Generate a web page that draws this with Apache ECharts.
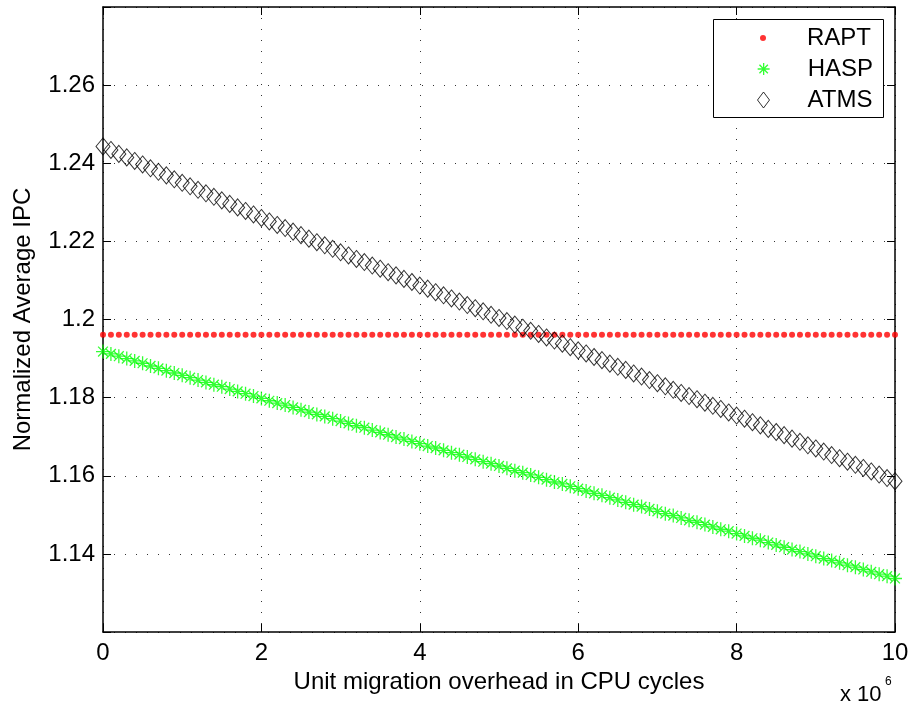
<!DOCTYPE html>
<html>
<head>
<meta charset="utf-8">
<script src="https://cdn.jsdelivr.net/npm/echarts@6/dist/echarts.min.js"></script>
<style>
  html, body { margin: 0; padding: 0; background: #fff; }
  #chart { width: 912px; height: 711px; }
</style>
</head>
<body>
<div id="chart"></div>
<script>
// Unit migration overhead (x 10^6 CPU cycles)
const overhead = [
  0.0, 0.1, 0.2, 0.3, 0.4, 0.5, 0.6, 0.7, 0.8, 0.9,
  1.0, 1.1, 1.2, 1.3, 1.4, 1.5, 1.6, 1.7, 1.8, 1.9,
  2.0, 2.1, 2.2, 2.3, 2.4, 2.5, 2.6, 2.7, 2.8, 2.9,
  3.0, 3.1, 3.2, 3.3, 3.4, 3.5, 3.6, 3.7, 3.8, 3.9,
  4.0, 4.1, 4.2, 4.3, 4.4, 4.5, 4.6, 4.7, 4.8, 4.9,
  5.0, 5.1, 5.2, 5.3, 5.4, 5.5, 5.6, 5.7, 5.8, 5.9,
  6.0, 6.1, 6.2, 6.3, 6.4, 6.5, 6.6, 6.7, 6.8, 6.9,
  7.0, 7.1, 7.2, 7.3, 7.4, 7.5, 7.6, 7.7, 7.8, 7.9,
  8.0, 8.1, 8.2, 8.3, 8.4, 8.5, 8.6, 8.7, 8.8, 8.9,
  9.0, 9.1, 9.2, 9.3, 9.4, 9.5, 9.6, 9.7, 9.8, 9.9,
  10.0
];

// Normalized average IPC per scheme
const rapt = [
  1.1961, 1.1961, 1.1961, 1.1961, 1.1961, 1.1961, 1.1961, 1.1961, 1.1961, 1.1961,
  1.1961, 1.1961, 1.1961, 1.1961, 1.1961, 1.1961, 1.1961, 1.1961, 1.1961, 1.1961,
  1.1961, 1.1961, 1.1961, 1.1961, 1.1961, 1.1961, 1.1961, 1.1961, 1.1961, 1.1961,
  1.1961, 1.1961, 1.1961, 1.1961, 1.1961, 1.1961, 1.1961, 1.1961, 1.1961, 1.1961,
  1.1961, 1.1961, 1.1961, 1.1961, 1.1961, 1.1961, 1.1961, 1.1961, 1.1961, 1.1961,
  1.1961, 1.1961, 1.1961, 1.1961, 1.1961, 1.1961, 1.1961, 1.1961, 1.1961, 1.1961,
  1.1961, 1.1961, 1.1961, 1.1961, 1.1961, 1.1961, 1.1961, 1.1961, 1.1961, 1.1961,
  1.1961, 1.1961, 1.1961, 1.1961, 1.1961, 1.1961, 1.1961, 1.1961, 1.1961, 1.1961,
  1.1961, 1.1961, 1.1961, 1.1961, 1.1961, 1.1961, 1.1961, 1.1961, 1.1961, 1.1961,
  1.1961, 1.1961, 1.1961, 1.1961, 1.1961, 1.1961, 1.1961, 1.1961, 1.1961, 1.1961,
  1.1961
];

const hasp = [
  1.1918, 1.1912, 1.1906, 1.1900, 1.1894, 1.1888, 1.1881, 1.1875, 1.1869, 1.1863,
  1.1857, 1.1851, 1.1845, 1.1839, 1.1833, 1.1828, 1.1822, 1.1816, 1.1810, 1.1804,
  1.1798, 1.1792, 1.1786, 1.1781, 1.1775, 1.1769, 1.1763, 1.1757, 1.1752, 1.1746,
  1.1740, 1.1734, 1.1728, 1.1723, 1.1717, 1.1711, 1.1705, 1.1699, 1.1694, 1.1688,
  1.1682, 1.1676, 1.1671, 1.1665, 1.1659, 1.1654, 1.1648, 1.1642, 1.1636, 1.1631,
  1.1625, 1.1619, 1.1613, 1.1608, 1.1602, 1.1596, 1.1590, 1.1584, 1.1579, 1.1573,
  1.1567, 1.1561, 1.1555, 1.1550, 1.1544, 1.1538, 1.1532, 1.1526, 1.1521, 1.1515,
  1.1509, 1.1503, 1.1498, 1.1492, 1.1486, 1.1481, 1.1475, 1.1469, 1.1463, 1.1458,
  1.1452, 1.1446, 1.1440, 1.1435, 1.1429, 1.1423, 1.1417, 1.1411, 1.1406, 1.1400,
  1.1394, 1.1388, 1.1383, 1.1377, 1.1371, 1.1366, 1.1360, 1.1354, 1.1348, 1.1343,
  1.1337
];

const atms = [
  1.2443, 1.2434, 1.2424, 1.2415, 1.2406, 1.2397, 1.2387, 1.2378, 1.2369, 1.2359,
  1.2350, 1.2341, 1.2332, 1.2323, 1.2314, 1.2305, 1.2296, 1.2287, 1.2278, 1.2269,
  1.2260, 1.2251, 1.2242, 1.2234, 1.2225, 1.2216, 1.2207, 1.2198, 1.2190, 1.2181,
  1.2172, 1.2164, 1.2155, 1.2147, 1.2138, 1.2130, 1.2121, 1.2113, 1.2104, 1.2096,
  1.2087, 1.2079, 1.2070, 1.2062, 1.2054, 1.2046, 1.2037, 1.2029, 1.2021, 1.2012,
  1.2004, 1.1996, 1.1987, 1.1979, 1.1971, 1.1963, 1.1954, 1.1946, 1.1938, 1.1929,
  1.1921, 1.1913, 1.1904, 1.1896, 1.1887, 1.1879, 1.1871, 1.1862, 1.1854, 1.1845,
  1.1837, 1.1829, 1.1820, 1.1812, 1.1804, 1.1796, 1.1787, 1.1779, 1.1771, 1.1762,
  1.1754, 1.1746, 1.1737, 1.1729, 1.1720, 1.1712, 1.1704, 1.1695, 1.1687, 1.1678,
  1.1670, 1.1662, 1.1653, 1.1645, 1.1636, 1.1628, 1.1620, 1.1611, 1.1603, 1.1594,
  1.1586
];

const seriesNames = ['RAPT', 'HASP', 'ATMS'];
const xTicks = { min: 0, max: 10, step: 2 };
const yTicks = { min: 1.12, max: 1.28, step: 0.02 };

const FONT = '"Liberation Sans", Arial, Helvetica, sans-serif';
const ASTERISK = 'path://M5,0L5,10M0,5L10,5M1.5,1.5L8.5,8.5M8.5,1.5L1.5,8.5';

const pairs = (ys) => overhead.map((x, i) => [x, ys[i]]);

const gridDots = { show: true, lineStyle: { color: '#333', width: 1, type: [1, 10] } };
const boxLine = { show: true, onZero: false, lineStyle: { color: '#000', width: 1.5 } };
const inTicks = { show: true, inside: true, length: 8, lineStyle: { color: '#000', width: 1 } };

function yLabel(v) {
  if (Math.abs(v - yTicks.min) < 1e-6 || Math.abs(v - yTicks.max) < 1e-6) return '';
  return String(parseFloat(v.toFixed(2)));
}

function legendFor(name, left, top, w, h, padLeft, itemStyle) {
  return {
    data: [name],
    orient: 'vertical',
    left: left, top: top,
    padding: 0,
    itemWidth: w, itemHeight: h,
    selectedMode: false,
    z: 6,
    itemStyle: itemStyle,
    textStyle: { fontFamily: FONT, fontSize: 24, lineHeight: 24, color: '#000', padding: [0, 0, 0, padLeft] }
  };
}

const chart = echarts.init(document.getElementById('chart'), null, { renderer: 'canvas' });

chart.setOption({
  animation: false,
  backgroundColor: '#fff',
  grid: { left: 103, right: 17, top: 7, bottom: 79, containLabel: false },
  xAxis: [
    {
      type: 'value', position: 'bottom',
      min: xTicks.min, max: xTicks.max, interval: xTicks.step,
      axisLine: boxLine, axisTick: inTicks, splitLine: gridDots,
      axisLabel: { color: '#000', fontFamily: FONT, fontSize: 24, margin: 9 },
      name: 'Unit migration overhead in CPU cycles',
      nameLocation: 'middle', nameGap: 36,
      nameTextStyle: { color: '#000', fontFamily: FONT, fontSize: 24 }
    },
    {
      type: 'value', position: 'top',
      min: xTicks.min, max: xTicks.max, interval: xTicks.step,
      axisLine: boxLine, axisTick: inTicks, splitLine: { show: false },
      axisLabel: { show: false }
    }
  ],
  yAxis: [
    {
      type: 'value', position: 'left',
      min: yTicks.min, max: yTicks.max, interval: yTicks.step,
      axisLine: boxLine, axisTick: inTicks, splitLine: gridDots,
      axisLabel: { color: '#000', fontFamily: FONT, fontSize: 24, margin: 8, formatter: yLabel },
      name: 'Normalized Average IPC',
      nameLocation: 'middle', nameGap: 68,
      nameTextStyle: { color: '#000', fontFamily: FONT, fontSize: 24 }
    },
    {
      type: 'value', position: 'right',
      min: yTicks.min, max: yTicks.max, interval: yTicks.step,
      axisLine: boxLine, axisTick: inTicks, splitLine: { show: false },
      axisLabel: { show: false }
    }
  ],
  legend: [
    legendFor(seriesNames[0], 760, 26, 6, 6, 36,
      { color: '#ff0000', borderWidth: 0 }),
    legendFor(seriesNames[1], 757, 57, 12, 12, 33,
      { color: 'rgba(0,0,0,0)', borderColor: '#00ff00', borderWidth: 1.3 }),
    legendFor(seriesNames[2], 757, 88, 12, 16, 33,
      { color: 'rgba(0,0,0,0)', borderColor: '#000', borderWidth: 1 })
  ],
  graphic: {
    elements: [
      {
        type: 'rect', z: 5,
        shape: { x: 713.5, y: 19.5, width: 170, height: 98 },
        style: { fill: '#fff', stroke: '#000', lineWidth: 1 }
      },
      {
        type: 'text', z: 5, left: 840, top: 684,
        style: { text: 'x 10', fontFamily: FONT, fontSize: 22, fill: '#000' }
      },
      {
        type: 'text', z: 5, left: 885, top: 676,
        style: { text: '6', fontFamily: FONT, fontSize: 12, fill: '#000' }
      }
    ]
  },
  series: [
    {
      name: seriesNames[0], type: 'scatter', data: pairs(rapt),
      symbol: 'circle', symbolSize: 6, clip: false,
      itemStyle: { color: '#ff0000' },
      emphasis: { disabled: true }, z: 2
    },
    {
      name: seriesNames[1], type: 'scatter', data: pairs(hasp),
      symbol: ASTERISK, symbolSize: 14, clip: false,
      itemStyle: { color: 'rgba(0,0,0,0)', borderColor: '#00ff00', borderWidth: 1.3 },
      emphasis: { disabled: true }, z: 2
    },
    {
      name: seriesNames[2], type: 'scatter', data: pairs(atms),
      symbol: 'diamond', symbolSize: [14, 17], clip: false,
      itemStyle: { color: 'rgba(0,0,0,0)', borderColor: '#000', borderWidth: 1 },
      emphasis: { disabled: true }, z: 2
    }
  ]
});
</script>
</body>
</html>
